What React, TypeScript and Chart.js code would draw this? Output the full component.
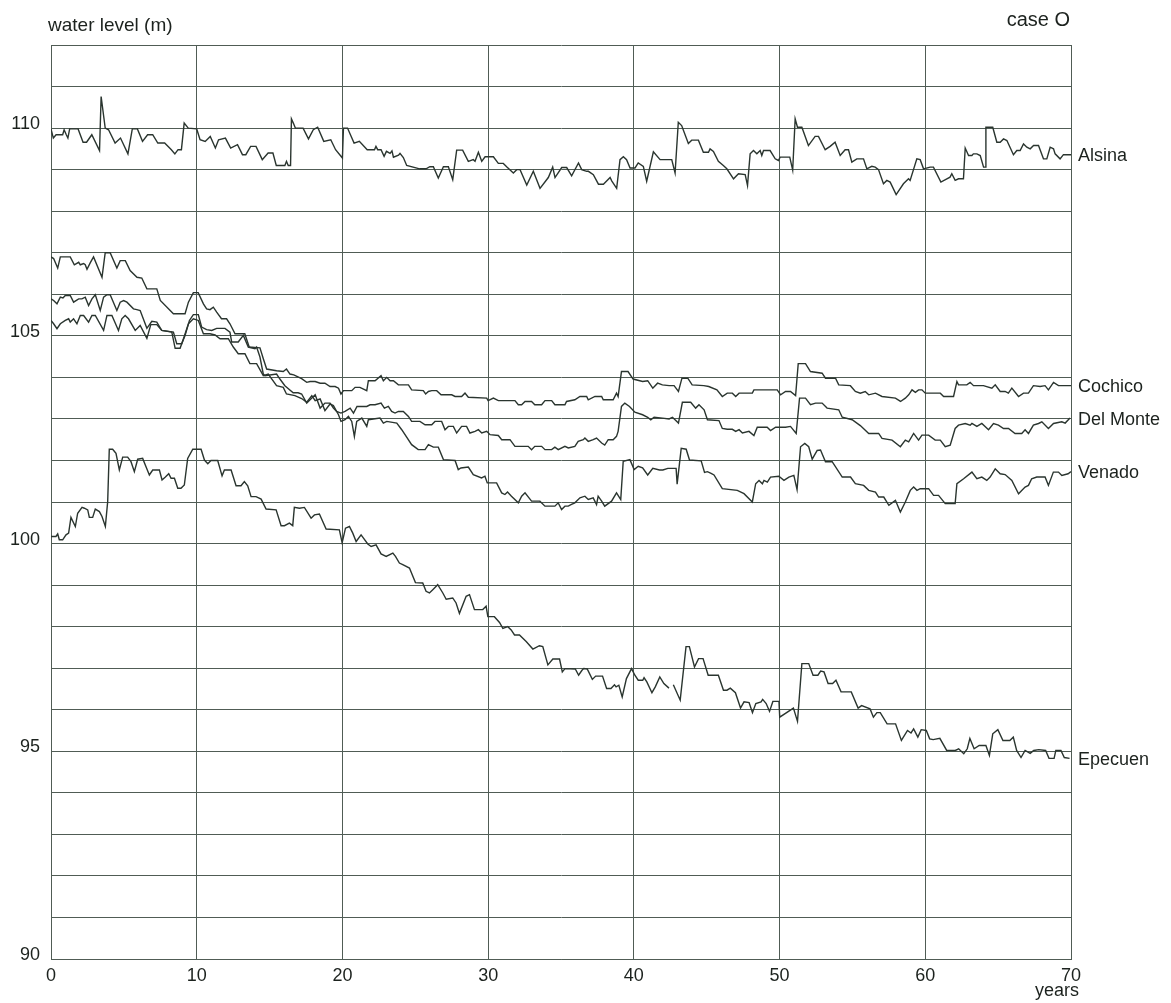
import React, { useEffect, useRef } from "react";
import { Chart, registerables } from "chart.js";

Chart.register(...registerables);

// ---------- DATA (years, water level m) ----------
const xTicks = [0, 10, 20, 30, 40, 50, 60, 70];
const yLabelTicks = [90, 95, 100, 105, 110];
const yTitle = "water level (m)";
const xTitle = "years";
const caseTitle = "case O";

const alsina: [number, number | null][] = [[0,109.98],[0.16,109.76],[0.35,109.84],[0.8,109.84],[0.9,109.96],[1.05,109.84],[1.16,109.76],[1.28,109.98],[1.86,109.98],[2.2,109.66],[2.44,109.66],[2.8,109.84],[3.33,109.46],[3.44,110.76],[3.72,110.0],[3.95,109.96],[4.4,109.64],[4.77,109.76],[5.28,109.38],[5.58,109.98],[5.93,109.98],[6.28,109.68],[6.63,109.84],[6.98,109.84],[7.33,109.64],[7.8,109.64],[8.26,109.48],[8.5,109.38],[8.72,109.48],[8.95,109.48],[9.14,110.12],[9.42,110.0],[10.0,109.98],[10.23,109.72],[10.58,109.68],[10.93,109.8],[11.28,109.52],[11.5,109.72],[11.97,109.76],[12.33,109.52],[12.8,109.6],[13.14,109.36],[13.37,109.36],[13.7,109.56],[14.07,109.56],[14.5,109.24],[14.9,109.4],[15.23,109.4],[15.46,109.1],[16.05,109.1],[16.16,109.2],[16.28,109.1],[16.44,109.1],[16.5,110.22],[16.63,110.12],[16.77,110.0],[17.3,110.0],[17.67,109.74],[18.0,109.96],[18.3,110.02],[18.72,109.68],[19.2,109.72],[19.53,109.48],[20.0,109.28],[20.07,110.0],[20.35,110.0],[20.8,109.64],[21.16,109.68],[21.7,109.48],[22.2,109.48],[22.3,109.56],[22.42,109.48],[22.65,109.48],[22.86,109.32],[23.02,109.44],[23.27,109.39],[23.4,109.45],[23.5,109.3],[23.85,109.35],[23.95,109.39],[24.18,109.29],[24.41,109.1],[25.3,109.02],[25.74,109.02],[26.0,109.07],[26.24,109.07],[26.58,108.8],[26.93,109.07],[27.27,109.07],[27.57,108.76],[27.84,109.47],[28.25,109.47],[28.64,109.2],[28.98,109.24],[29.1,109.2],[29.33,109.42],[29.56,109.2],[29.79,109.31],[30.36,109.31],[30.7,109.15],[31.04,109.15],[31.27,109.07],[31.73,108.92],[31.96,109.0],[32.19,109.0],[32.65,108.63],[33.1,108.96],[33.56,108.55],[34.13,108.81],[34.43,109.06],[34.59,108.81],[35.05,109.05],[35.39,109.05],[35.73,108.85],[36.2,109.16],[36.42,109.0],[36.76,108.96],[36.88,108.96],[37.22,108.88],[37.57,108.65],[37.91,108.65],[38.37,108.81],[38.48,108.73],[38.82,108.55],[39.05,109.24],[39.28,109.31],[39.5,109.24],[39.74,109.04],[40.08,109.04],[40.3,109.16],[40.65,109.08],[40.88,108.72],[41.34,109.43],[41.8,109.24],[42.6,109.24],[42.83,108.92],[43.05,110.14],[43.28,110.06],[43.74,109.63],[43.97,109.71],[44.43,109.71],[44.77,109.42],[45.12,109.42],[45.23,109.5],[45.46,109.44],[45.8,109.2],[46.14,109.1],[46.38,109.02],[46.84,108.78],[47.18,108.9],[47.64,108.88],[47.8,108.62],[47.98,109.38],[48.21,109.46],[48.44,109.38],[48.67,109.46],[48.78,109.34],[48.9,109.46],[49.35,109.46],[49.7,109.26],[49.92,109.22],[50.04,109.3],[50.7,109.3],[50.9,108.99],[51.07,110.22],[51.23,110.02],[51.53,110.02],[51.98,109.58],[52.44,109.8],[52.67,109.8],[53.13,109.48],[53.47,109.56],[53.81,109.66],[54.16,109.34],[54.5,109.48],[54.73,109.48],[54.96,109.18],[55.3,109.26],[55.76,109.26],[55.99,109.02],[56.33,109.08],[56.56,109.06],[56.79,109.0],[57.13,108.66],[57.36,108.74],[57.59,108.7],[58.0,108.4],[58.5,108.66],[58.85,108.78],[58.96,108.74],[59.42,109.26],[59.65,109.24],[59.88,109.02],[60.33,109.06],[60.56,109.06],[61.07,108.7],[61.48,108.78],[61.7,108.82],[61.82,108.9],[62.05,108.74],[62.28,108.78],[62.62,108.78],[62.74,109.52],[62.97,109.34],[63.2,109.34],[63.3,109.38],[63.54,109.38],[63.77,109.34],[64.0,109.06],[64.11,109.06],[64.16,110.02],[64.63,110.02],[64.91,109.66],[65.14,109.66],[65.37,109.74],[65.6,109.7],[66.05,109.36],[66.28,109.46],[66.51,109.46],[66.74,109.62],[66.97,109.54],[67.2,109.5],[67.43,109.58],[67.77,109.58],[68.11,109.26],[68.34,109.26],[68.57,109.54],[68.8,109.5],[68.91,109.38],[69.25,109.26],[69.48,109.36],[69.83,109.36],[70,109.36]];

const cochico: [number, number | null][] = [[0,106.9],[0.18,106.86],[0.46,106.63],[0.64,106.9],[1.32,106.9],[1.6,106.71],[1.9,106.77],[2.01,106.71],[2.24,106.74],[2.35,106.71],[2.47,106.6],[2.7,106.76],[2.92,106.9],[3.5,106.41],[3.72,107.0],[4.06,107.0],[4.52,106.63],[4.75,106.81],[5.1,106.81],[5.43,106.57],[5.9,106.41],[6.23,106.39],[6.58,106.13],[7.26,106.13],[7.5,105.85],[8.4,105.53],[9.2,105.53],[9.43,105.81],[9.77,106.04],[10.1,106.04],[10.46,105.77],[10.68,105.65],[10.91,105.63],[11.14,105.69],[11.37,105.57],[11.7,105.41],[12.05,105.41],[12.28,105.29],[12.63,105.05],[13.3,105.05],[13.6,104.73],[14.34,104.71],[14.57,104.45],[14.8,104.2],[15.48,104.16],[15.94,104.14],[16.16,104.2],[16.4,104.08],[16.66,104.06],[17.2,103.97],[17.55,103.88],[17.78,103.9],[18.13,103.9],[18.47,103.86],[18.8,103.86],[19.15,103.78],[19.5,103.78],[19.73,103.74],[19.9,103.6],[20.07,103.68],[20.64,103.68],[20.87,103.76],[21.2,103.76],[21.67,103.68],[21.78,103.92],[22.24,103.92],[22.65,104.04],[22.81,103.92],[23.04,104.0],[23.27,103.92],[23.5,103.92],[23.84,103.82],[24.53,103.82],[24.75,103.7],[25.55,103.68],[25.71,103.6],[25.9,103.66],[26.13,103.68],[26.47,103.68],[26.77,103.58],[27.5,103.58],[27.73,103.54],[28.18,103.54],[28.41,103.62],[28.64,103.52],[29.9,103.5],[30.0,103.44],[30.36,103.5],[30.7,103.44],[31.84,103.44],[32.07,103.34],[32.3,103.34],[32.53,103.42],[32.98,103.42],[33.2,103.34],[33.67,103.34],[33.9,103.44],[34.36,103.44],[34.58,103.34],[35.27,103.34],[35.38,103.42],[35.95,103.46],[36.3,103.54],[36.76,103.54],[36.87,103.46],[37.33,103.54],[37.79,103.54],[37.9,103.46],[38.58,103.46],[38.81,103.62],[38.92,103.54],[39.15,104.14],[39.6,104.14],[39.95,103.96],[40.6,103.9],[40.95,103.92],[41.3,103.74],[41.63,103.86],[41.96,103.82],[42.42,103.8],[42.76,103.8],[43.06,103.66],[43.3,103.98],[43.7,103.98],[44.0,103.82],[44.8,103.8],[45.14,103.78],[45.7,103.7],[46.07,103.54],[46.41,103.62],[46.76,103.62],[46.99,103.54],[47.22,103.62],[48.13,103.62],[48.24,103.7],[49.84,103.7],[50.07,103.58],[50.41,103.66],[50.75,103.66],[51.1,103.56],[51.28,104.33],[51.78,104.33],[52.12,104.14],[52.92,104.1],[53.15,103.98],[53.84,103.98],[54.06,103.82],[54.86,103.8],[55.2,103.66],[55.54,103.62],[55.88,103.66],[56.12,103.58],[56.58,103.62],[57.03,103.54],[57.95,103.5],[58.3,103.42],[58.63,103.5],[58.86,103.58],[59.09,103.7],[59.32,103.64],[59.54,103.7],[59.77,103.7],[60.0,103.62],[61.03,103.62],[61.26,103.54],[61.94,103.54],[62.17,103.9],[62.28,103.82],[62.85,103.82],[63.08,103.88],[63.31,103.8],[63.99,103.8],[64.57,103.74],[64.8,103.82],[65.14,103.66],[65.48,103.66],[65.7,103.62],[65.94,103.74],[66.4,103.54],[66.74,103.62],[67.08,103.62],[67.42,103.8],[67.88,103.78],[68.22,103.8],[68.45,103.7],[68.8,103.88],[69.14,103.8],[70.0,103.8]];

const delMonte: [number, number | null][] = [[0,105.89],[0.18,105.85],[0.41,105.77],[0.64,105.93],[0.82,105.91],[0.98,105.97],[1.32,105.97],[1.55,105.81],[1.9,105.89],[2.12,105.89],[2.35,105.93],[2.58,105.73],[2.81,105.89],[3.04,105.99],[3.38,105.61],[3.61,105.93],[3.84,105.99],[4.06,105.99],[4.52,105.61],[4.75,105.81],[4.98,105.85],[5.21,105.81],[5.66,105.65],[5.89,105.63],[6.12,105.61],[6.58,105.18],[6.92,105.35],[7.26,105.33],[7.6,105.13],[8.4,105.09],[8.63,104.81],[8.97,104.81],[9.2,105.01],[9.5,105.37],[9.77,105.51],[10.11,105.51],[10.34,105.21],[10.68,105.15],[11.03,105.13],[11.37,105.18],[11.94,105.18],[12.28,105.09],[12.4,104.85],[12.85,104.85],[13.2,105.01],[13.54,104.73],[14.0,104.69],[14.11,104.73],[14.34,104.49],[14.57,104.08],[14.68,104.04],[15.48,104.08],[15.71,103.96],[16.05,103.8],[16.62,103.63],[16.96,103.63],[17.2,103.6],[17.55,103.38],[17.78,103.46],[18.13,103.58],[18.47,103.26],[18.8,103.38],[19.15,103.38],[19.38,103.26],[19.6,103.18],[19.9,103.14],[20.18,103.18],[20.53,103.26],[20.76,103.14],[21.0,103.3],[21.67,103.3],[21.9,103.34],[22.24,103.34],[22.65,103.38],[22.88,103.26],[23.15,103.3],[23.38,103.18],[23.61,103.14],[23.84,103.18],[24.18,103.18],[24.53,103.06],[24.75,102.94],[25.32,102.94],[25.67,102.86],[26.13,102.86],[26.35,102.94],[26.81,102.94],[27.04,102.74],[27.27,102.82],[27.61,102.82],[27.84,102.66],[28.18,102.82],[28.52,102.82],[28.75,102.66],[29.1,102.7],[29.33,102.74],[29.56,102.66],[29.9,102.7],[30.13,102.62],[30.7,102.6],[30.93,102.5],[31.5,102.5],[31.84,102.34],[32.75,102.34],[32.98,102.26],[33.2,102.34],[33.67,102.34],[33.9,102.26],[34.36,102.26],[34.58,102.32],[34.81,102.26],[35.27,102.34],[35.5,102.3],[35.95,102.34],[36.18,102.46],[36.53,102.5],[36.64,102.54],[36.87,102.46],[37.21,102.5],[37.44,102.54],[37.79,102.42],[38.0,102.37],[38.24,102.5],[38.58,102.5],[38.81,102.58],[38.92,102.7],[39.15,103.3],[39.38,103.38],[39.7,103.3],[40.07,103.16],[40.6,103.1],[40.95,103.04],[41.16,102.98],[41.39,103.04],[41.96,103.02],[42.42,103.0],[42.65,103.04],[43.06,102.9],[43.33,103.4],[43.9,103.4],[44.24,103.26],[44.47,103.34],[44.82,103.22],[45.05,102.98],[45.84,102.96],[46.07,102.77],[46.41,102.75],[46.76,102.75],[46.99,102.7],[47.22,102.74],[47.45,102.66],[47.9,102.7],[48.24,102.6],[48.47,102.8],[49.15,102.8],[49.38,102.72],[49.73,102.8],[50.41,102.8],[50.75,102.82],[51.14,102.65],[51.37,103.5],[51.78,103.5],[52.12,103.34],[52.47,103.38],[52.92,103.38],[53.26,103.26],[54.06,103.22],[54.3,103.04],[54.98,102.98],[55.54,102.84],[56.12,102.65],[56.8,102.65],[57.03,102.53],[57.72,102.49],[58.29,102.33],[58.63,102.49],[58.86,102.45],[59.2,102.65],[59.54,102.49],[59.77,102.61],[60.23,102.61],[60.68,102.49],[61.03,102.49],[61.37,102.33],[61.71,102.37],[62.05,102.77],[62.28,102.85],[62.74,102.89],[63.08,102.85],[63.2,102.89],[63.54,102.82],[63.88,102.89],[64.34,102.74],[64.68,102.89],[65.02,102.85],[65.37,102.77],[65.71,102.77],[66.16,102.65],[66.62,102.65],[66.85,102.74],[67.08,102.65],[67.42,102.85],[67.77,102.89],[68.0,102.93],[68.45,102.77],[68.8,102.89],[69.37,102.93],[69.6,102.9],[69.93,103.02]];

const venado: [number, number | null][] = [[0,105.37],[0.18,105.29],[0.41,105.17],[0.64,105.29],[0.98,105.37],[1.21,105.41],[1.32,105.33],[1.55,105.41],[1.78,105.29],[2.01,105.49],[2.24,105.49],[2.58,105.33],[2.81,105.49],[3.04,105.49],[3.61,105.13],[3.84,105.49],[4.18,105.49],[4.63,105.13],[4.86,105.41],[5.09,105.49],[5.32,105.41],[5.78,105.13],[6.12,105.25],[6.58,104.94],[6.85,105.27],[7.26,105.27],[7.6,105.13],[8.29,105.09],[8.52,104.7],[8.86,104.7],[9.09,104.93],[9.43,105.29],[9.77,105.41],[10.11,105.37],[10.46,105.05],[10.91,105.05],[11.26,105.02],[11.6,104.93],[12.17,104.93],[12.51,104.73],[12.85,104.57],[13.31,104.57],[13.65,104.33],[14.11,104.33],[14.57,104.04],[14.91,104.08],[15.48,103.8],[15.94,103.76],[16.16,103.6],[16.74,103.56],[17.2,103.49],[17.55,103.4],[17.9,103.56],[18.13,103.44],[18.47,103.48],[18.8,103.2],[19.15,103.36],[19.38,103.32],[19.73,103.1],[19.9,102.94],[20.18,102.98],[20.41,103.06],[20.64,102.94],[20.82,102.58],[20.98,102.94],[21.33,103.02],[21.67,102.82],[21.78,102.98],[22.58,103.02],[22.81,102.9],[23.04,102.94],[23.73,102.9],[24.07,102.74],[24.75,102.38],[24.98,102.32],[25.2,102.26],[25.67,102.26],[25.9,102.38],[26.24,102.32],[26.58,102.32],[26.93,102.02],[27.73,102.0],[27.95,101.78],[28.13,101.82],[28.64,101.84],[28.98,101.66],[29.55,101.58],[29.78,101.62],[29.94,101.46],[30.58,101.46],[30.93,101.22],[31.15,101.18],[31.33,101.24],[31.6,101.14],[32.07,100.98],[32.3,101.14],[32.53,101.22],[32.98,101.02],[33.2,101.02],[33.55,101.02],[33.9,100.9],[34.58,100.9],[34.81,100.98],[35.04,100.82],[35.27,100.9],[35.5,100.9],[35.72,100.94],[35.95,100.98],[36.3,101.1],[36.64,101.14],[36.87,101.06],[37.21,101.1],[37.44,100.94],[37.55,101.14],[37.79,101.02],[38.0,100.9],[38.47,101.02],[38.81,101.22],[39.1,101.06],[39.27,101.98],[39.73,102.02],[40.02,101.78],[40.3,101.86],[40.6,101.82],[40.95,101.65],[41.3,101.81],[41.76,101.77],[41.99,101.77],[42.33,101.81],[42.9,101.81],[42.97,101.43],[43.25,102.29],[43.59,102.27],[43.82,102.01],[44.62,101.99],[44.85,101.71],[45.05,101.73],[45.3,101.69],[45.5,101.65],[46.07,101.32],[47.1,101.28],[47.56,101.2],[48.13,101.0],[48.36,101.44],[48.59,101.52],[48.82,101.44],[48.93,101.52],[49.16,101.48],[49.38,101.6],[49.95,101.62],[50.3,101.52],[50.64,101.6],[50.98,101.64],[51.2,101.3],[51.44,102.33],[51.73,102.41],[52.0,102.33],[52.24,102.03],[52.58,102.24],[52.81,102.25],[53.15,101.97],[53.61,101.97],[54.3,101.6],[54.87,101.6],[55.2,101.44],[55.77,101.4],[56.12,101.28],[56.58,101.24],[56.8,101.12],[57.15,101.12],[57.5,100.92],[57.95,101.04],[58.29,100.76],[58.63,101.0],[58.97,101.28],[59.2,101.36],[59.43,101.28],[59.65,101.32],[60.23,101.32],[60.57,101.16],[60.91,101.16],[61.37,100.96],[62.05,100.96],[62.17,101.44],[62.63,101.56],[63.2,101.72],[63.54,101.56],[63.88,101.6],[64.22,101.52],[64.45,101.6],[64.8,101.8],[65.14,101.68],[65.48,101.66],[65.94,101.52],[66.4,101.2],[66.85,101.36],[67.08,101.4],[67.3,101.56],[67.65,101.6],[68.22,101.6],[68.45,101.4],[68.79,101.72],[69.14,101.72],[69.37,101.64],[69.8,101.68],[70,101.73]];

const epecuen: [number, number | null][] = [[0,100.17],[0.34,100.17],[0.46,100.23],[0.57,100.09],[0.8,100.09],[1.03,100.21],[1.21,100.25],[1.37,100.63],[1.67,100.41],[1.83,100.73],[2.13,100.87],[2.29,100.85],[2.52,100.81],[2.63,100.63],[2.86,100.63],[3.04,100.83],[3.32,100.77],[3.5,100.65],[3.73,100.41],[3.89,101.01],[4.0,102.27],[4.23,102.27],[4.46,102.17],[4.69,101.77],[4.92,102.08],[5.26,102.08],[5.49,101.97],[5.72,101.73],[5.95,102.03],[6.29,102.05],[6.52,101.85],[6.75,101.65],[6.98,101.77],[7.44,101.77],[7.62,101.53],[7.85,101.6],[8.08,101.68],[8.24,101.57],[8.47,101.57],[8.7,101.33],[8.92,101.33],[9.15,101.41],[9.38,102.05],[9.73,102.27],[10.3,102.27],[10.53,102.01],[10.76,101.92],[10.98,102.0],[11.44,102.0],[11.74,101.63],[11.9,101.77],[12.36,101.77],[12.7,101.39],[13.04,101.39],[13.27,101.49],[13.5,101.39],[13.73,101.13],[14.07,101.13],[14.42,101.07],[14.76,100.83],[15.45,100.81],[15.79,100.43],[16.02,100.43],[16.36,100.49],[16.59,100.43],[16.7,100.87],[17.05,100.85],[17.39,100.87],[17.85,100.61],[18.08,100.69],[18.42,100.71],[18.88,100.35],[19.79,100.33],[19.98,100.02],[20.21,100.37],[20.48,100.41],[20.71,100.25],[20.94,100.05],[21.28,100.21],[21.74,99.99],[21.97,99.93],[22.31,99.97],[22.65,99.75],[23.0,99.69],[23.46,99.77],[23.64,99.69],[23.91,99.53],[24.14,99.49],[24.6,99.41],[25.01,99.06],[25.51,99.05],[25.74,98.85],[25.97,98.81],[26.2,98.89],[26.54,99.01],[26.89,98.81],[27.12,98.66],[27.57,98.69],[27.8,98.57],[28.03,98.32],[28.49,98.73],[28.72,98.77],[29.06,98.41],[29.63,98.41],[29.86,98.49],[29.98,98.24],[30.43,98.24],[30.78,98.1],[31.01,97.96],[31.35,98.0],[31.58,97.92],[31.81,97.8],[32.15,97.8],[32.61,97.64],[33.07,97.46],[33.52,97.54],[33.75,97.52],[34.1,97.08],[34.44,97.22],[34.9,97.22],[35.09,96.91],[35.27,96.99],[35.98,96.98],[36.21,96.83],[36.44,96.95],[36.56,96.99],[36.8,96.98],[37.15,96.73],[37.38,96.81],[37.85,96.81],[38.13,96.51],[38.43,96.51],[38.67,96.6],[38.78,96.55],[38.97,96.59],[39.2,96.31],[39.49,96.75],[39.84,96.99],[40.07,96.83],[40.3,96.71],[40.61,96.71],[40.7,96.77],[40.89,96.67],[41.24,96.41],[41.47,96.55],[41.78,96.79],[42.06,96.63],[42.41,96.52],[42.56,null],[42.71,96.6],[43.18,96.23],[43.58,97.52],[43.81,97.52],[44.16,97.03],[44.44,97.23],[44.75,97.23],[45.1,96.83],[45.8,96.83],[46.15,96.47],[46.39,96.47],[46.62,96.52],[46.97,96.41],[47.32,96.04],[47.56,96.19],[47.91,96.17],[48.14,95.93],[48.37,96.15],[48.73,96.19],[48.84,96.25],[49.08,96.15],[49.31,95.96],[49.54,96.2],[49.96,96.2],[50.01,95.82],[50.95,96.04],[51.23,95.72],[51.53,97.11],[52.0,97.11],[52.3,96.83],[52.63,96.83],[52.82,96.93],[53.05,96.91],[53.33,96.63],[53.64,96.63],[53.87,96.71],[54.22,96.43],[54.92,96.43],[55.39,96.04],[55.63,96.1],[56.21,96.02],[56.44,95.82],[56.68,95.93],[56.91,95.93],[57.38,95.66],[57.96,95.66],[58.36,95.26],[58.78,95.5],[59.02,95.44],[59.2,95.54],[59.49,95.34],[59.72,95.52],[60.07,95.5],[60.3,95.3],[60.54,95.28],[61.0,95.31],[61.47,95.02],[62.06,95.02],[62.29,95.06],[62.64,94.94],[62.88,95.06],[63.06,95.31],[63.35,95.06],[63.7,95.14],[64.16,95.14],[64.4,94.9],[64.63,95.42],[64.98,95.52],[65.33,95.26],[65.8,95.26],[66.04,95.34],[66.27,95.02],[66.57,94.85],[66.85,95.02],[67.2,94.95],[67.44,95.02],[67.79,95.04],[68.26,95.02],[68.49,94.83],[68.84,94.83],[68.96,95.02],[69.31,95.02],[69.54,94.85],[69.9,94.83]];

const seriesNames = ["Alsina", "Cochico", "Del Monte", "Venado", "Epecuen"];
const seriesData = [alsina, cochico, delMonte, venado, epecuen];

// ---------- STYLE ----------
const FONT = '"Liberation Sans", Arial, Helvetica, sans-serif';
const LINE = "#2a352f";
const GRID = "#505c55";
const TEXT = "#1c221e";

const lastValue = (arr: [number, number | null][]) => {
  for (let i = arr.length - 1; i >= 0; i--) if (arr[i][1] != null) return arr[i][1] as number;
  return 0;
};

const textPlugin = {
  id: "textPlugin",
  afterDraw(chart: any) {
    const { ctx, chartArea, scales } = chart;
    ctx.save();
    ctx.fillStyle = TEXT;
    ctx.textBaseline = "alphabetic";
    ctx.font = `19px ${FONT}`;
    ctx.textAlign = "left";
    ctx.fillText(yTitle, chartArea.left - 3, chartArea.top - 14);
    ctx.font = `20px ${FONT}`;
    ctx.textAlign = "right";
    ctx.fillText(caseTitle, chartArea.right - 1, chartArea.top - 19);
    ctx.font = `18px ${FONT}`;
    ctx.textAlign = "center";
    ctx.fillText(xTitle, chartArea.right - 14, chartArea.bottom + 37);
    ctx.textAlign = "left";
    seriesNames.forEach((name, i) => {
      const y = scales.y.getPixelForValue(lastValue(seriesData[i]));
      ctx.fillText(name, chartArea.right + 7, y + 6.5);
    });
    ctx.restore();
  },
};

export default function App() {
  const ref = useRef<HTMLCanvasElement | null>(null);
  useEffect(() => {
    if (!ref.current) return;
    const chart = new Chart(ref.current, {
      type: "line",
      data: {
        datasets: seriesData.map((arr, i) => ({
          label: seriesNames[i],
          data: arr.map(([x, y]) => ({ x, y })),
          borderColor: LINE,
          borderWidth: 1.4,
          pointRadius: 0,
          tension: 0,
          fill: false,
          spanGaps: false,
        })),
      },
      options: {
        responsive: false,
        animation: false,
        devicePixelRatio: 1,
        layout: { padding: { left: 0, right: 100, top: 45, bottom: 0 } },
        plugins: { legend: { display: false }, tooltip: { enabled: false } },
        scales: {
          x: {
            type: "linear",
            min: 0,
            max: 70,
            afterFit: (s: any) => { s.height = 44; },
            afterBuildTicks: (s: any) => { s.ticks = xTicks.map((v) => ({ value: v })); },
            ticks: { color: TEXT, font: { family: FONT, size: 18 }, padding: 6, maxRotation: 0, autoSkip: false },
            grid: { color: GRID, lineWidth: 1, drawTicks: false },
            border: { display: true, color: GRID, width: 1 },
          },
          y: {
            type: "linear",
            min: 90,
            max: 112,
            afterFit: (s: any) => { s.width = 51; },
            ticks: {
              stepSize: 1,
              autoSkip: false,
              color: TEXT,
              font: { family: FONT, size: 18 },
              padding: 11,
              labelOffset: -4,
              callback: (v: any) => (yLabelTicks.includes(Number(v)) ? String(v) : ""),
            },
            grid: { color: GRID, lineWidth: 1, drawTicks: false },
            border: { display: true, color: GRID, width: 1 },
          },
        },
      },
      plugins: [textPlugin],
    } as any);
    return () => chart.destroy();
  }, []);
  return (
    <div style={{ position: "absolute", left: 0, top: 0, width: 1171, height: 1003, background: "#fff" }}>
      <canvas ref={ref} width={1171} height={1003} style={{ display: "block" }} />
    </div>
  );
}
